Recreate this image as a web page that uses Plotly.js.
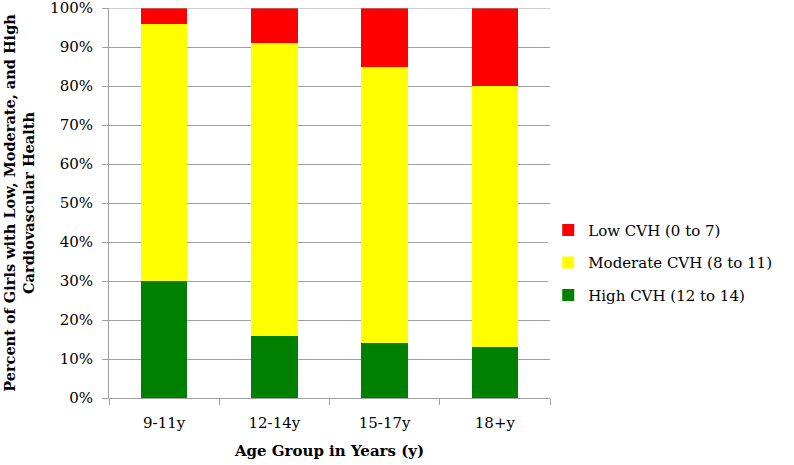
<!DOCTYPE html>
<html><head><meta charset="utf-8">
<script src="https://cdn.plot.ly/plotly-3.0.1.min.js"></script>
<style>html,body{margin:0;padding:0;background:#fff}#c{width:794px;height:465px}</style>
</head><body><div id="c"></div>
<script>
const categories = ["9-11y", "12-14y", "15-17y", "18+y"];
const highCVH = [30, 16, 14, 13];
const moderateCVH = [66, 75, 71, 67];
const lowCVH = [4, 9, 15, 20];
const seriesNames = ["High CVH (12 to 14)", "Moderate CVH (8 to 11)", "Low CVH (0 to 7)"];
const tickVals = [0,10,20,30,40,50,60,70,80,90,100];
const tickText = tickVals.map(v => v + "%");

const fontFam = "'DejaVu Serif', serif";
const traces = [
  {type:"bar", name:seriesNames[0], legendgroup:"h", legendrank:3, x:categories, y:highCVH, marker:{color:"#008000"}},
  {type:"bar", name:seriesNames[1], legendgroup:"m", legendrank:2, x:categories, y:moderateCVH, marker:{color:"#ffff00"}},
  {type:"bar", name:seriesNames[2], legendgroup:"l", legendrank:1, x:categories, y:lowCVH, marker:{color:"#ff0000"}}
];
const layout = {
  width:794, height:465,
  margin:{l:109, r:244, t:8, b:67},
  barmode:"stack", bargap:0.58,
  paper_bgcolor:"#fff", plot_bgcolor:"#fff",
  font:{family:fontFam, size:15, color:"#000"},
  showlegend:true,
  legend:{x:0.996, y:0.347, xanchor:"left", yanchor:"middle", traceorder:"grouped",
    font:{family:fontFam, size:15, color:"#000"}, itemwidth:30, tracegroupgap:10},
  xaxis:{
    showline:true, linecolor:"#a0a0a0", linewidth:1,
    ticks:"outside", tickson:"boundaries", ticklen:6, tickcolor:"#a0a0a0",
    ticklabelstandoff:11,
    showgrid:false, zeroline:false,
    title:{text:"<b>Age Group in Years (y)</b>", font:{family:fontFam, size:15}, standoff:14}
  },
  yaxis:{
    range:[0,100], tickvals:tickVals, ticktext:tickText, ticklabeloverflow:"allow",
    showline:true, linecolor:"#a0a0a0", linewidth:1,
    ticks:"outside", ticklen:6, tickcolor:"#a0a0a0", ticklabelstandoff:6,
    showgrid:true, gridcolor:"#a0a0a0", gridwidth:1, zeroline:false,
    title:{text:"<b>Percent of Girls with Low, Moderate, and High<br>Cardiovascular Health</b>", font:{family:fontFam, size:14.5}, standoff:12}
  },
  shapes:[{type:"line", xref:"paper", yref:"y", x0:0, x1:1, y0:100, y1:100, line:{color:"#a0a0a0", width:1}}]
};
Plotly.newPlot("c", traces, layout, {displayModeBar:false, staticPlot:true});
</script></body></html>
